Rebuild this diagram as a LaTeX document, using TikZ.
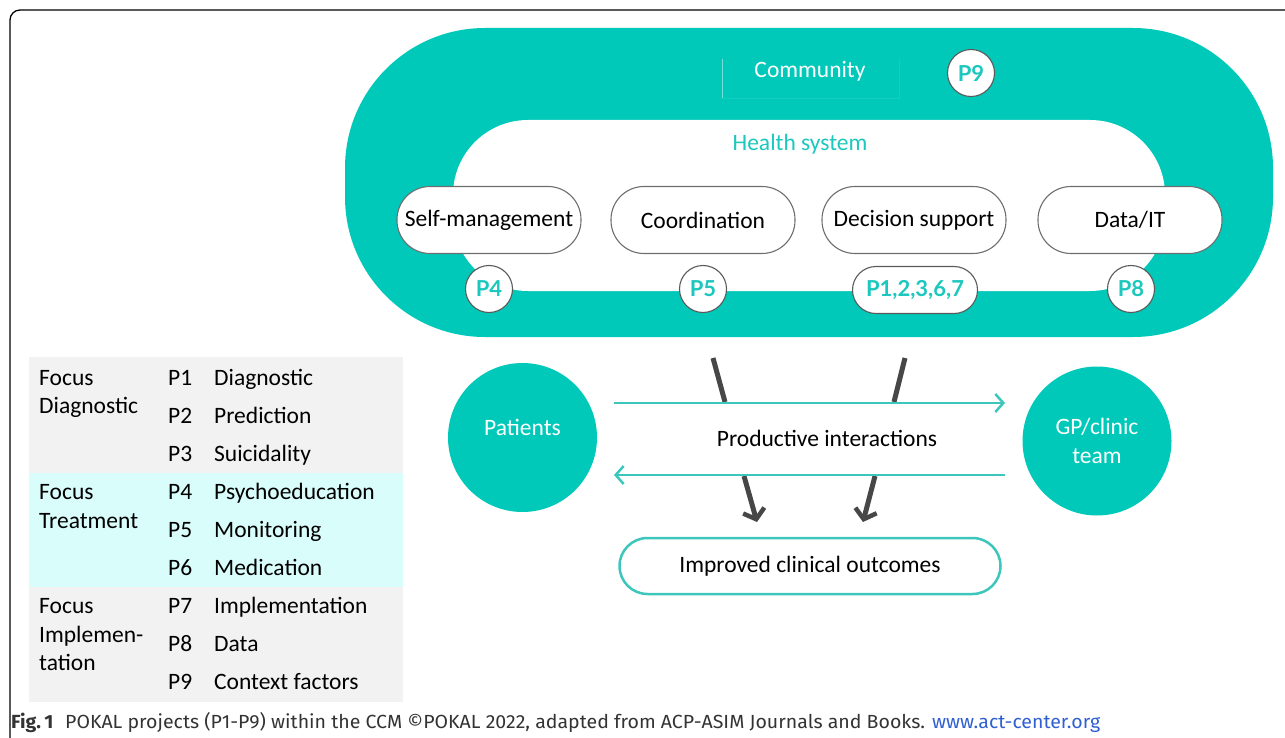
\documentclass[tikz,border=0pt]{standalone}
\usepackage{fontspec}
\setmainfont{Carlito}
\newfontfamily\labelfont{Lato}
\newfontfamily\capfont{Fira Sans}
\usetikzlibrary{arrows.meta}

\definecolor{ccmteal}{HTML}{00C9B9}
\definecolor{ccmtext}{HTML}{1CC8BE}
\definecolor{ccmarrow}{HTML}{3CC6BC}
\definecolor{pillborder}{HTML}{6E6E6E}
\definecolor{tagborder}{HTML}{5A5A5A}
\definecolor{darkarrow}{HTML}{474747}
\definecolor{rowgray}{HTML}{F2F2F2}
\definecolor{rowcyan}{HTML}{D8FDFB}
\definecolor{captext}{HTML}{333333}
\definecolor{linkblue}{HTML}{2F5FD0}

\tikzset{
  txt/.style={font=\fontsize{23.5}{28}\selectfont, inner sep=0pt},
  pill/.style={draw=pillborder, line width=1.1pt, fill=white, rounded corners=33pt,
    minimum width=184pt, minimum height=67pt, inner sep=0pt, text=black,
    font=\fontsize{23.5}{28}\selectfont},
  ptag/.style={draw=tagborder, line width=1.1pt, fill=white, circle, minimum size=47pt,
    inner sep=0pt, text=ccmtext, font=\labelfont\bfseries\fontsize{22}{26}\selectfont},
  ptagwide/.style={ptag, circle=false, rectangle, rounded corners=23.5pt,
    minimum width=125pt, minimum height=47pt},
  actor/.style={circle, fill=ccmteal, minimum size=149pt, inner sep=0pt, text=white,
    align=center, font=\fontsize{23.5}{29}\selectfont},
  flow/.style={draw=ccmarrow, line width=2.5pt,
    -{Straight Barb[length=8pt, width=18pt, line width=2.5pt]}},
  push/.style={draw=darkarrow, line width=5pt},
  pusharrow/.style={push, -{Straight Barb[length=9pt, width=22pt, line width=4.5pt]}},
  cell/.style={txt, anchor=base west, text=black},
}

\begin{document}
\begin{tikzpicture}[x=1pt, y=-1pt]
\useasboundingbox (0,0) rectangle (1285,738);

% outer frame of the figure box
\draw[line width=1.3pt, rounded corners=10pt] (10,760) -- (10,10) -- (1300,10);

% community ring and health system area
\fill[ccmteal, rounded corners=140pt] (345,28) rectangle (1273,337);
\fill[white, rounded corners=75pt] (453,120) rectangle (1165,291);

% faint outline around the community label
\draw[white!45!ccmteal, line width=0.8pt] (722,59) -- (722,98);
\draw[white!8!ccmteal, line width=0.5pt] (722,98) -- (899,98) -- (899,59);

\node[txt, text=white] (community) at (810,71) {Community};
\node[ptag] (p9) at (971,73) {P9};
\node[txt, text=ccmtext] (health) at (800,144) {Health system};

% health system components
\node[pill] (self) at (489,220) {Self-management};
\node[pill] (coord) at (703,220) {Coordination};
\node[pill] (decision) at (914,220) {Decision support};
\node[pill] (data) at (1130,220) {Data/IT};

\node[ptag] (p4) at (489,289) {P4};
\node[ptag] (p5) at (703,289) {P5};
\node[ptagwide] (pmulti) at (915,290) {P1,2,3,6,7};
\node[ptag] (p8) at (1131,289) {P8};

% actors
\node[actor] (patients) at (522.5,437.5) {\raisebox{20pt}{Patients}};
\node[actor] (gp) at (1097,441) {GP/clinic\\team};

\node[txt] (interactions) at (827,438) {Productive interactions};

\node[draw=ccmarrow, line width=2.5pt, rounded corners=28pt, minimum width=381pt,
  minimum height=56pt, txt] (outcomes) at (810,566) {Improved clinical outcomes};

% interaction flows
\coordinate (fwdS) at (614,403);
\coordinate (fwdE) at (1005,403);
\coordinate (backS) at (1005,475);
\coordinate (backE) at (614,475);

\coordinate (inA1) at (713,358);
\coordinate (inA2) at (725,402);
\coordinate (inB1) at (905,358);
\coordinate (inB2) at (894,402);
\coordinate (outA1) at (744,476);
\coordinate (outB1) at (875,476);
\coordinate (outA2) at (757,522);
\coordinate (outB2) at (863,522);

\draw[push] (inA1) -- (inA2);
\draw[push] (inB1) -- (inB2);
\draw[pusharrow] (outA1) -- (outA2);
\draw[pusharrow] (outB1) -- (outB2);

\draw[flow] (fwdS) -- (fwdE);
\draw[flow] (backS) -- (backE);

% project table
\fill[rowgray] (29,357) rectangle (403,473);
\fill[rowcyan] (29,473) rectangle (403,587);
\fill[rowgray] (29,587) rectangle (403,702);

\node[cell] (f1a) at (39,385) {Focus};
\node[cell] (f1b) at (39,413) {Diagnostic};
\node[cell] (f2a) at (39,499) {Focus};
\node[cell] (f2b) at (39,528) {Treatment};
\node[cell] (f3a) at (39,613) {Focus};
\node[cell] (f3b) at (39,642) {Implemen-};
\node[cell] (f3c) at (39,670) {tation};

\node[cell] (n1) at (168,385) {P1}; \node[cell] (t1) at (214,385) {Diagnostic};
\node[cell] (n2) at (168,423) {P2}; \node[cell] (t2) at (214,423) {Prediction};
\node[cell] (n3) at (168,461) {P3}; \node[cell] (t3) at (214,461) {Suicidality};
\node[cell] (n4) at (168,499) {P4}; \node[cell] (t4) at (214,499) {Psychoeducation};
\node[cell] (n5) at (168,537) {P5}; \node[cell] (t5) at (214,537) {Monitoring};
\node[cell] (n6) at (168,575) {P6}; \node[cell] (t6) at (214,575) {Medication};
\node[cell] (n7) at (168,613) {P7}; \node[cell] (t7) at (214,613) {Implementation};
\node[cell] (n8) at (168,651) {P8}; \node[cell] (t8) at (214,651) {Data};
\node[cell] (n9) at (168,689) {P9}; \node[cell] (t9) at (214,689) {Context factors};

% caption
\node[anchor=base west, inner sep=0pt, text=captext] (caption) at (11,728)
  {\resizebox{1089pt}{\height}{\capfont\fontsize{19}{22}\selectfont
   {\bfseries Fig.\,1}\hspace{0.6em}POKAL projects (P1-P9) within the CCM \textcopyright POKAL 2022, adapted from ACP-ASIM Journals and Books. \textcolor{linkblue}{www.act-center.org}}};
\end{tikzpicture}
\end{document}
